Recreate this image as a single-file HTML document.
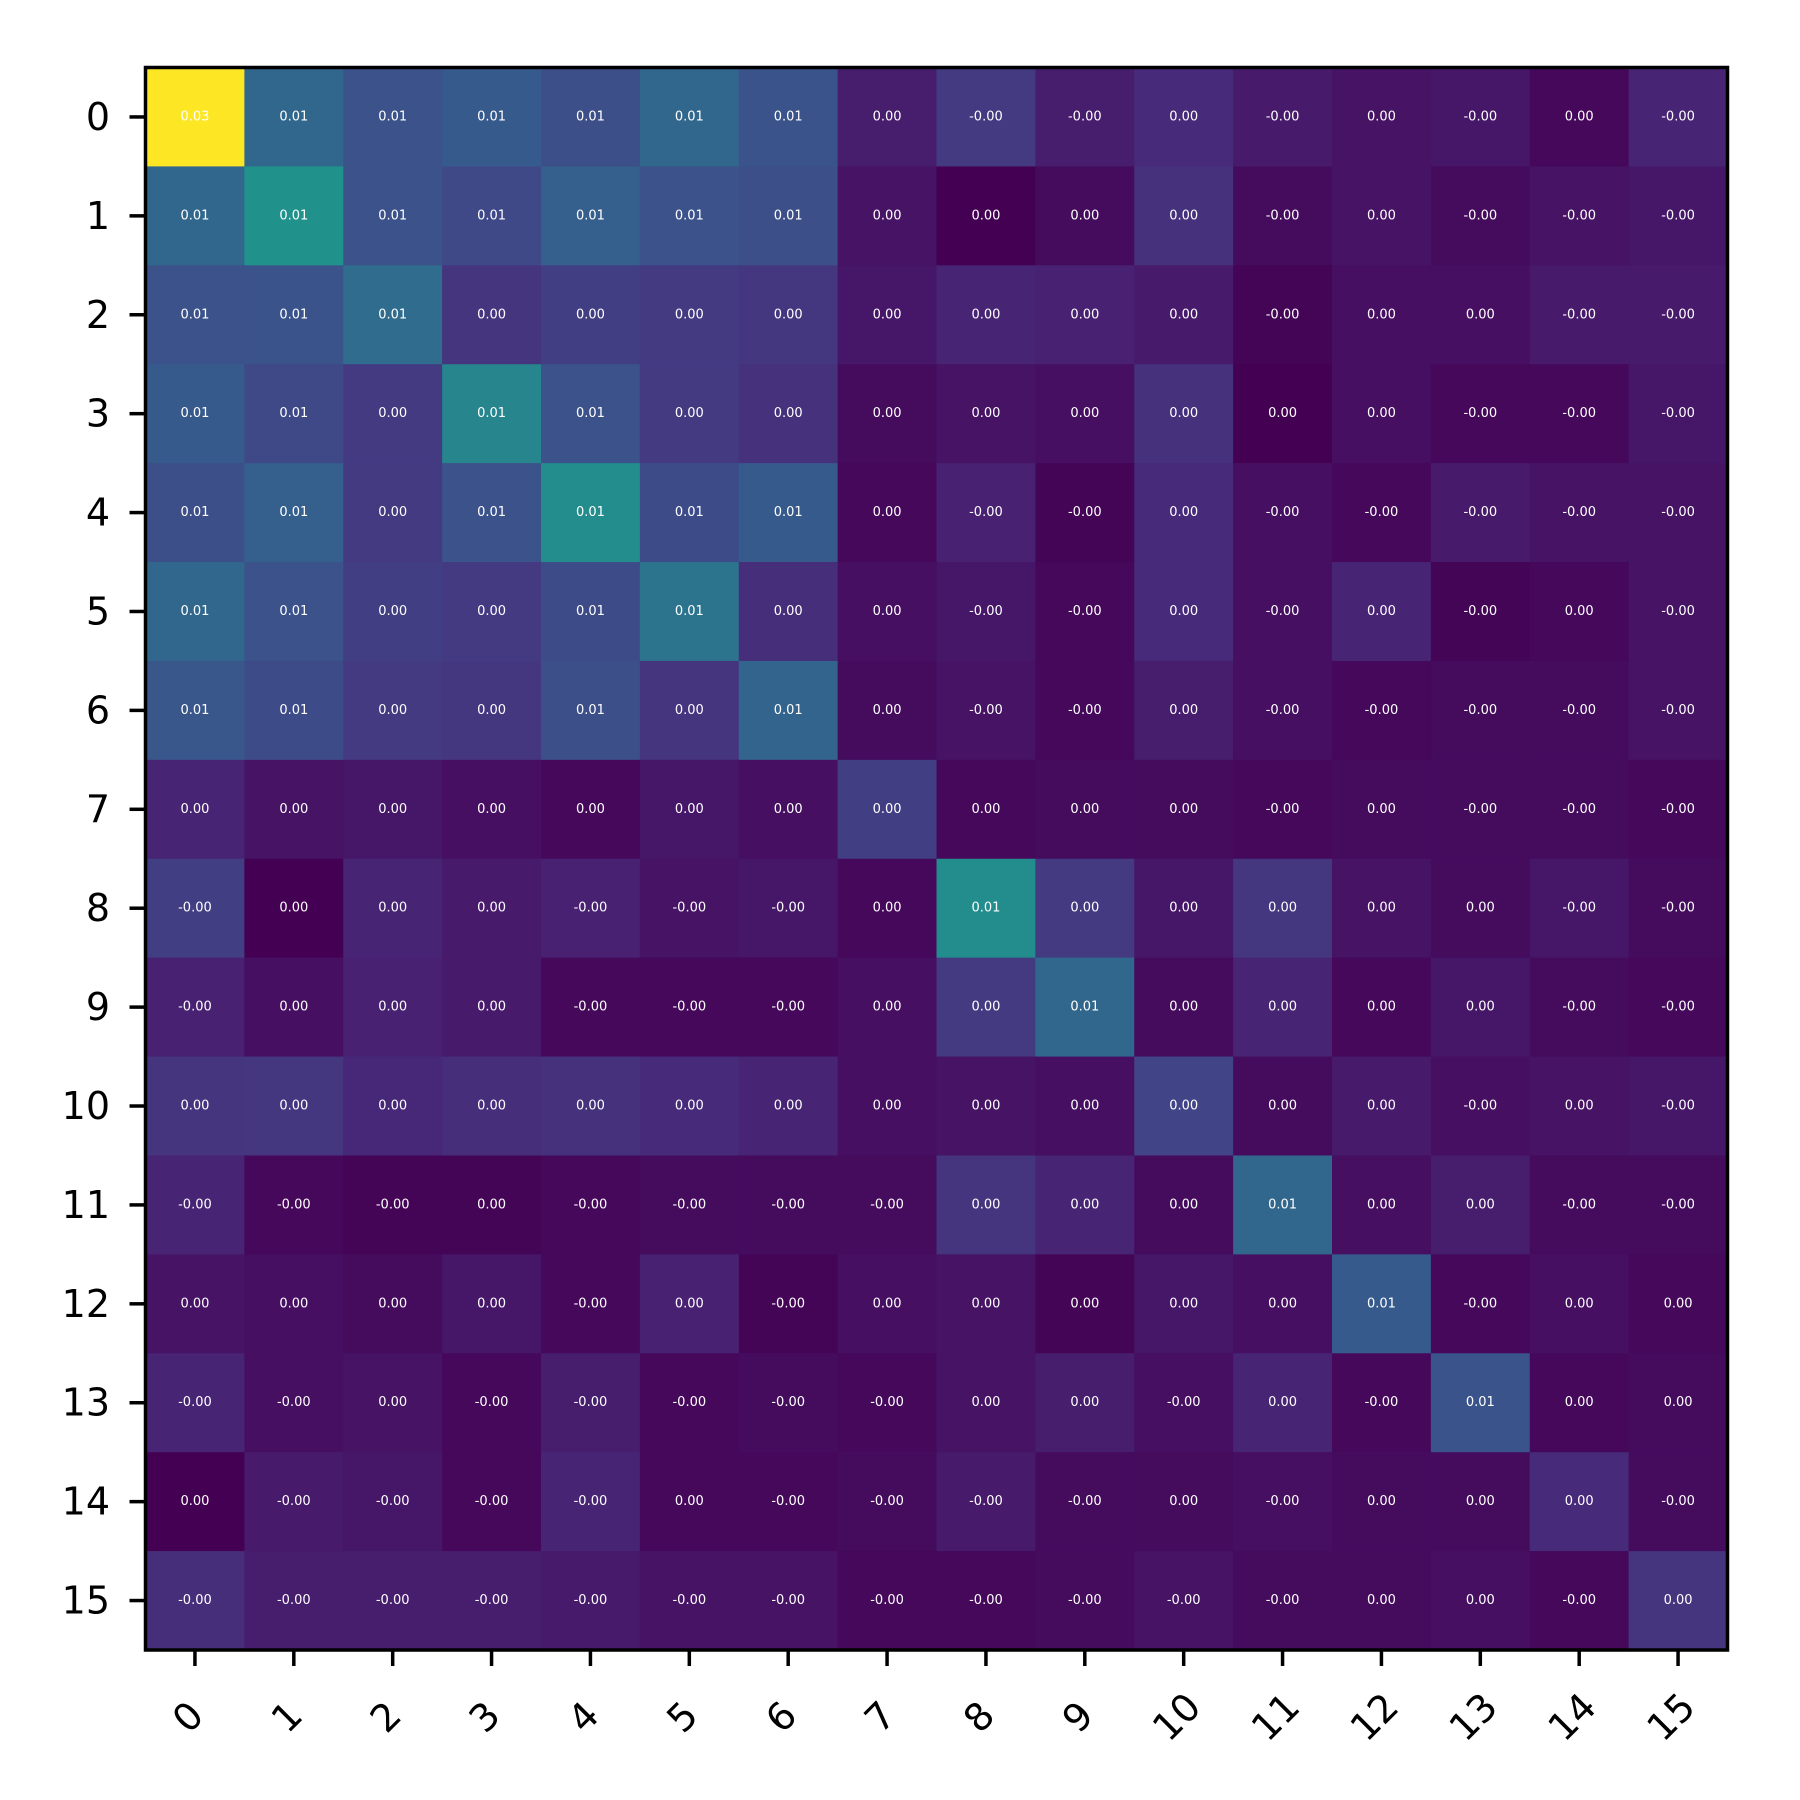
<!DOCTYPE html>
<html><head><meta charset="utf-8"><style>
html,body{margin:0;padding:0;background:#fff;}
svg{display:block;font-family:"DejaVu Sans","Liberation Sans",sans-serif;}
</style></head><body>
<svg id="chart" width="1800" height="1800" viewBox="0 0 1800 1800" xmlns="http://www.w3.org/2000/svg">
<rect width="1800" height="1800" fill="#fff"/>
<g id="cells"></g>
<g id="xticks"></g>
<g id="yticks"></g>
<rect x="145.5" y="67.5" width="1582" height="1582.5" fill="none" stroke="#000" stroke-width="3.5"/>
</svg>
<script>
const rowCats = [0,1,2,3,4,5,6,7,8,9,10,11,12,13,14,15];
const colCats = [0,1,2,3,4,5,6,7,8,9,10,11,12,13,14,15];
const values = [
[1,.33,.25,.28,.24,.33,.26,.08,.17,.08,.12,.07,.05,.06,.02,.1],
[.33,.5,.25,.22,.3,.25,.24,.05,0,.03,.14,.03,.05,.03,.05,.06],
[.25,.26,.35,.15,.18,.17,.16,.06,.1,.09,.07,.01,.04,.04,.07,.07],
[.28,.22,.17,.45,.25,.17,.14,.03,.05,.04,.14,0,.04,.02,.02,.06],
[.24,.3,.17,.25,.48,.23,.28,.02,.09,.01,.12,.04,.02,.07,.05,.05],
[.33,.25,.18,.17,.23,.38,.13,.04,.06,.02,.12,.04,.1,.01,.02,.05],
[.27,.23,.17,.16,.24,.15,.32,.03,.05,.02,.08,.04,.02,.03,.03,.05],
[.1,.05,.06,.04,.02,.06,.04,.18,.02,.03,.03,.02,.03,.03,.03,.02],
[.18,0,.1,.07,.09,.05,.06,.02,.48,.17,.06,.16,.05,.03,.06,.03],
[.09,.04,.09,.07,.02,.02,.02,.04,.17,.33,.03,.1,.02,.06,.03,.02],
[.15,.16,.11,.13,.14,.12,.1,.04,.05,.04,.2,.03,.07,.04,.05,.06],
[.1,.02,.01,.01,.02,.03,.03,.03,.15,.1,.03,.33,.04,.08,.03,.03],
[.05,.04,.03,.06,.02,.09,.01,.04,.05,.01,.06,.04,.28,.02,.04,.02],
[.1,.04,.05,.02,.08,.02,.03,.02,.05,.08,.04,.1,.02,.26,.02,.03],
[0,.07,.06,.02,.1,.02,.02,.03,.07,.03,.03,.04,.03,.03,.12,.03],
[.13,.08,.08,.08,.07,.05,.05,.02,.02,.03,.05,.03,.03,.04,.02,.15]
];
const labels = [
"0.03 0.01 0.01 0.01 0.01 0.01 0.01 0.00 -0.00 -0.00 0.00 -0.00 0.00 -0.00 0.00 -0.00",
"0.01 0.01 0.01 0.01 0.01 0.01 0.01 0.00 0.00 0.00 0.00 -0.00 0.00 -0.00 -0.00 -0.00",
"0.01 0.01 0.01 0.00 0.00 0.00 0.00 0.00 0.00 0.00 0.00 -0.00 0.00 0.00 -0.00 -0.00",
"0.01 0.01 0.00 0.01 0.01 0.00 0.00 0.00 0.00 0.00 0.00 0.00 0.00 -0.00 -0.00 -0.00",
"0.01 0.01 0.00 0.01 0.01 0.01 0.01 0.00 -0.00 -0.00 0.00 -0.00 -0.00 -0.00 -0.00 -0.00",
"0.01 0.01 0.00 0.00 0.01 0.01 0.00 0.00 -0.00 -0.00 0.00 -0.00 0.00 -0.00 0.00 -0.00",
"0.01 0.01 0.00 0.00 0.01 0.00 0.01 0.00 -0.00 -0.00 0.00 -0.00 -0.00 -0.00 -0.00 -0.00",
"0.00 0.00 0.00 0.00 0.00 0.00 0.00 0.00 0.00 0.00 0.00 -0.00 0.00 -0.00 -0.00 -0.00",
"-0.00 0.00 0.00 0.00 -0.00 -0.00 -0.00 0.00 0.01 0.00 0.00 0.00 0.00 0.00 -0.00 -0.00",
"-0.00 0.00 0.00 0.00 -0.00 -0.00 -0.00 0.00 0.00 0.01 0.00 0.00 0.00 0.00 -0.00 -0.00",
"0.00 0.00 0.00 0.00 0.00 0.00 0.00 0.00 0.00 0.00 0.00 0.00 0.00 -0.00 0.00 -0.00",
"-0.00 -0.00 -0.00 0.00 -0.00 -0.00 -0.00 -0.00 0.00 0.00 0.00 0.01 0.00 0.00 -0.00 -0.00",
"0.00 0.00 0.00 0.00 -0.00 0.00 -0.00 0.00 0.00 0.00 0.00 0.00 0.01 -0.00 0.00 0.00",
"-0.00 -0.00 0.00 -0.00 -0.00 -0.00 -0.00 -0.00 0.00 0.00 -0.00 0.00 -0.00 0.01 0.00 0.00",
"0.00 -0.00 -0.00 -0.00 -0.00 0.00 -0.00 -0.00 -0.00 -0.00 0.00 -0.00 0.00 0.00 0.00 -0.00",
"-0.00 -0.00 -0.00 -0.00 -0.00 -0.00 -0.00 -0.00 -0.00 -0.00 -0.00 -0.00 0.00 0.00 -0.00 0.00"
];
const vmin = 0, vmax = 1;

const NS = "http://www.w3.org/2000/svg";
const X0 = 145.5, Y0 = 67.5, W = 1582, H = 1582.5;
const cw = W / colCats.length, ch = H / rowCats.length;
const xScale = i => X0 + i * cw;
const yScale = i => Y0 + i * ch;
const vir = [[68,1,84],[72,36,117],[65,68,135],[53,95,141],[42,120,142],[33,145,140],[34,168,132],[68,191,112],[122,209,81],[189,223,38],[253,231,37]];
function viridis(v){
  let t = (v - vmin) / (vmax - vmin); t = Math.max(0, Math.min(1, t));
  const p = t * 10, i = Math.min(9, Math.floor(p)), f = p - i;
  const a = vir[i], b = vir[i+1];
  return "rgb(" + a.map((c,k)=>Math.round(c + (b[k]-c)*f)).join(",") + ")";
}
function mk(tag, attrs){ const e = document.createElementNS(NS, tag); for (const k in attrs) e.setAttribute(k, attrs[k]); return e; }
const cells = document.getElementById("cells");
values.forEach((row, r) => {
  const labs = labels[r].split(" ");
  row.forEach((v, c) => {
    const rect = mk("rect", {x: xScale(c), y: yScale(r), width: cw + 0.6, height: ch + 0.6, fill: viridis(v)});
    
    
    cells.appendChild(rect);
    const t = mk("text", {x: xScale(c) + cw/2, y: yScale(r) + ch/2, "text-anchor": "middle", "dominant-baseline": "central", "font-size": "13", fill: "#fff"});
    
    
    t.textContent = labs[c];
    cells.appendChild(t);
  });
});
const xg = document.getElementById("xticks");
colCats.forEach((c, i) => {
  const x = xScale(i) + cw/2;
  const tk = mk("line", {x1: x, x2: x, y1: Y0 + H, y2: Y0 + H + 16, stroke: "#000", "stroke-width": 3.5});
  
  
  xg.appendChild(tk);
  const cx = x - 7, cy = 1717;
  const t = mk("text", {x: cx, y: cy, "text-anchor": "middle", "dominant-baseline": "central", "font-size": "38", transform: "rotate(-45 " + cx + " " + cy + ")"});
  
  
  t.textContent = c;
  xg.appendChild(t);
});
const yg = document.getElementById("yticks");
rowCats.forEach((r, i) => {
  const y = yScale(i) + ch/2;
  const tk = mk("line", {x1: X0 - 16, x2: X0, y1: y, y2: y, stroke: "#000", "stroke-width": 3.5});
  
  
  yg.appendChild(tk);
  const t = mk("text", {x: 110, y: y, "text-anchor": "end", "dominant-baseline": "central", "font-size": "38"});
  
  
  t.textContent = r;
  yg.appendChild(t);
});
</script>
</body></html>
